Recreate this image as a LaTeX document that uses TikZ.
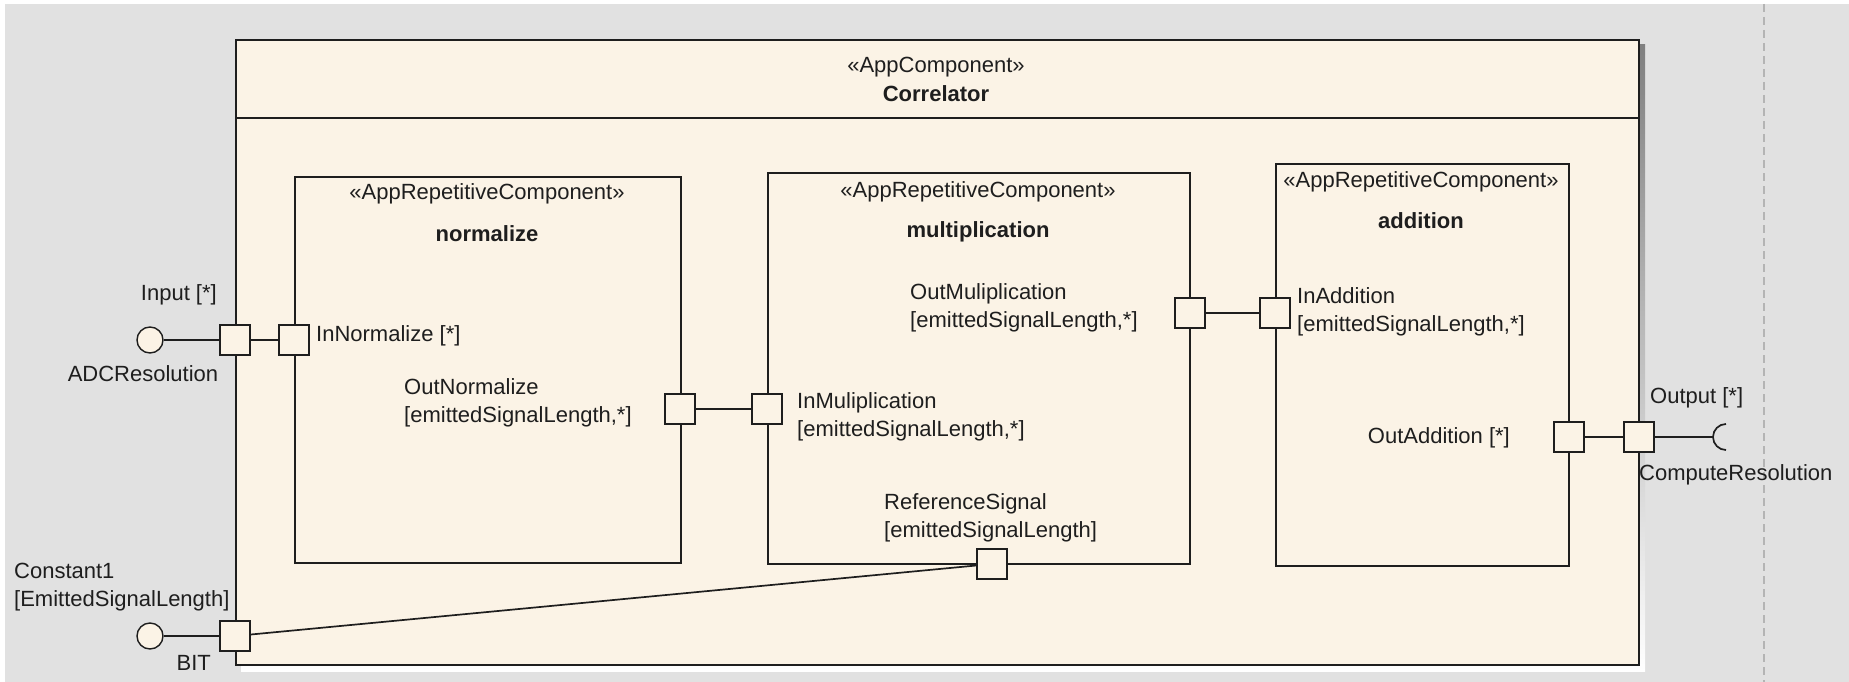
\documentclass[tikz,border=0pt]{standalone}
\usepackage{fontspec}
\setmainfont{Liberation Sans}
\definecolor{bg}{HTML}{E1E1E1}
\definecolor{cream}{HTML}{FBF3E6}
\definecolor{ink}{HTML}{1E1E1E}
\definecolor{shade}{HTML}{B8B8B8}
\definecolor{dashc}{HTML}{B4B4B4}
\begin{document}
\begin{tikzpicture}[x=1pt,y=-1pt,
  box/.style={draw=ink, fill=cream, line width=2pt, inner sep=0pt, anchor=north west},
  port/.style={draw=ink, fill=cream, line width=1.9pt, minimum size=30pt, inner sep=0pt},
  iface/.style={circle, draw=ink, fill=cream, line width=1.4pt, minimum size=26pt, inner sep=0pt},
  conn/.style={draw=ink, line width=1.7pt},
  txt/.style={font=\fontsize{22}{28}\selectfont, text=ink, inner sep=0pt},
  lbl/.style={txt, align=left},
  ttl/.style={txt, font=\fontsize{22}{28}\selectfont\bfseries}]
\fill[white] (0,0) rectangle (1849,682);
\fill[bg] (5,4) rectangle (1849,682);
\useasboundingbox (0,0) rectangle (1849,682);
% dashed frame line
\coordinate (dt) at (1764,4);
\coordinate (db) at (1764,682);
\draw[dashc, line width=1.2pt, dash pattern=on 8pt off 5pt] (dt) -- (db);
% outer component
\fill[shade] (241,45) rectangle (1645,671);
\node[box, line width=2.3pt, minimum width=1403pt, minimum height=625pt] (corr) at (235,39) {};
\coordinate (hdr) at (0,118);
\draw[ink, line width=2pt] (corr.west |- hdr) -- (corr.east |- hdr);
\node[txt] (cst) at (936,67) {«AppComponent»};
\node[ttl] (cnm) at (936,94) {Correlator};
% inner components
\node[box, minimum width=386pt, minimum height=386pt] (norm) at (294,176) {};
\node[txt] (normst) at (487,194) {«AppRepetitiveComponent»};
\node[ttl] (normnm) at (487,234) {normalize};
\node[box, minimum width=422pt, minimum height=391pt] (mult) at (767,172) {};
\node[txt] (multst) at (978,192) {«AppRepetitiveComponent»};
\node[ttl] (multnm) at (978,232) {multiplication};
\node[box, minimum width=293pt, minimum height=402pt] (add) at (1275,163) {};
\node[txt] (addst) at (1421,182) {«AppRepetitiveComponent»};
\node[ttl] (addnm) at (1421,221) {addition};
% labels
\node[txt, anchor=east] (linput) at (217,295) {Input [*]};
\node[txt] (ladc) at (143,374) {ADCResolution};
\node[txt, anchor=west] (linnorm) at (316,336) {InNormalize [*]};
\node[lbl, anchor=west] (loutnorm) at (404,403) {OutNormalize\\{[}emittedSignalLength,*]};
\node[lbl, anchor=west] (linmul) at (797,417) {InMuliplication\\{[}emittedSignalLength,*]};
\node[lbl, anchor=west] (loutmul) at (910,308) {OutMuliplication\\{[}emittedSignalLength,*]};
\node[lbl, anchor=west] (linadd) at (1297,312) {InAddition\\{[}emittedSignalLength,*]};
\node[lbl, anchor=west] (lref) at (884,518) {ReferenceSignal\\{[}emittedSignalLength]};
\node[txt, anchor=east] (loutadd) at (1510,438) {OutAddition [*]};
\node[txt, anchor=west] (loutput) at (1650,398) {Output [*]};
\node[txt, anchor=west] (lcomp) at (1639,475) {ComputeResolution};
\node[lbl, anchor=west] (lconst) at (14,587) {Constant1\\{[}EmittedSignalLength]};
\node[txt, anchor=east] (lbit) at (211,663) {BIT};
% ports and interfaces
\node[iface] (adc) at (150,340) {};
\node[port] (inp) at (235,340) {};
\node[port] (innorm) at (294,340) {};
\node[port] (outnorm) at (680,409) {};
\node[port] (inmul) at (767,409) {};
\node[port] (outmul) at (1190,313) {};
\node[port] (inadd) at (1275,313) {};
\node[port] (refsig) at (992,564) {};
\node[iface] (cst1) at (150,636) {};
\node[port] (bit) at (235,636) {};
\node[port] (outadd) at (1569,437) {};
\node[port] (outp) at (1639,437) {};
\coordinate (req) at (1713,437);
% connectors
\draw[conn] (adc) -- (inp);
\draw[conn] (inp) -- (innorm);
\draw[conn] (outnorm) -- (inmul);
\draw[conn] (outmul) -- (inadd);
\draw[conn] (cst1) -- (bit);
\draw[conn] (bit) -- (refsig);
\draw[conn] (outadd) -- (outp);
\draw[conn] (outp) -- (req);
\draw[conn] ([xshift=13pt,yshift=13pt]req) arc[start angle=90, end angle=270, radius=13pt];
\end{tikzpicture}
\end{document}
